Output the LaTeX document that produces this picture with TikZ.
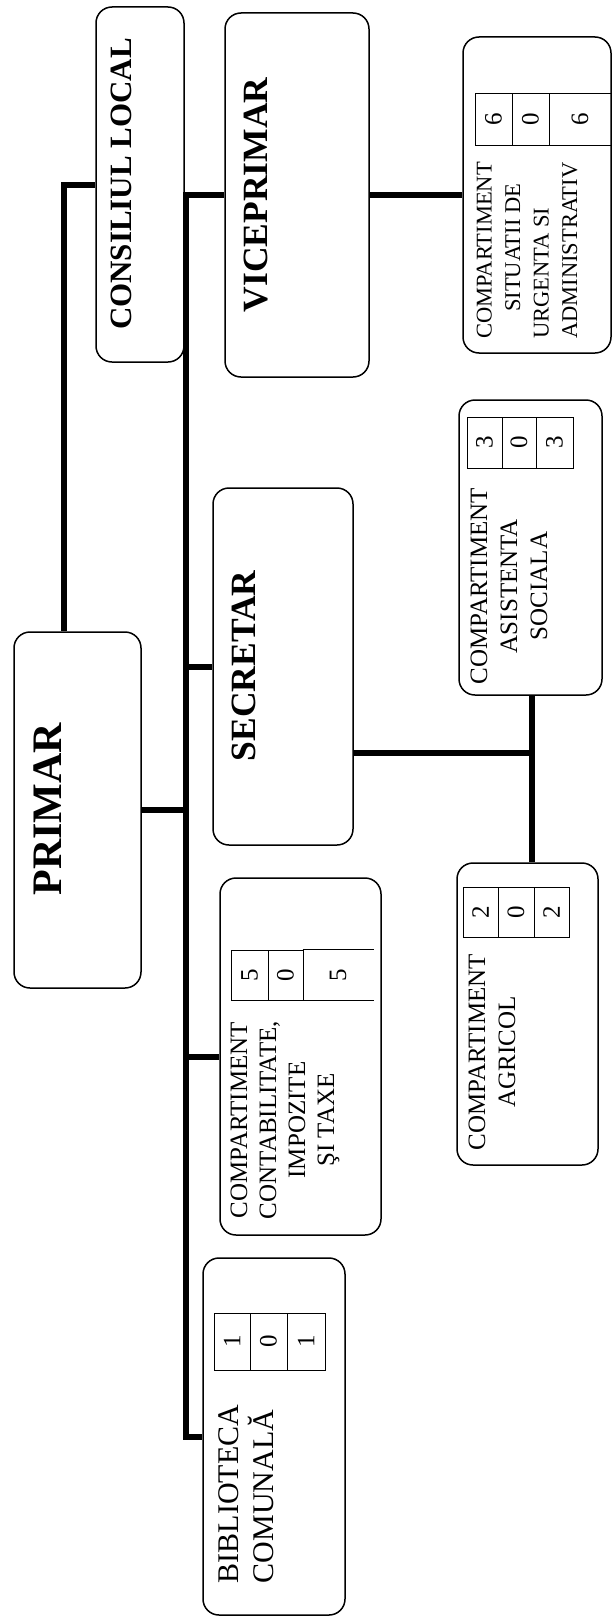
\documentclass[tikz,border=0pt]{standalone}
\usepackage{fontspec}
\setmainfont{Liberation Serif}
\usepackage{graphicx}

\begin{document}
\begin{tikzpicture}[
    x=1pt, y=-1pt,
    every node/.style={font=\fontsize{25}{30}\selectfont},
    box/.style={draw, rounded corners=16pt, line width=1.5pt},
    head/.style={rotate=90, inner sep=0pt},
    comp/.style={rotate=90, inner sep=0pt, align=center},
    cell/.style={draw, line width=1pt, inner sep=0pt},
    conn/.style={line width=6pt},
  ]
  \useasboundingbox (0,0) rectangle (613,1619);

  %% Leadership boxes
  \node[box, minimum width=88,  minimum height=355] (consiliu)   at (140,184.5) {};
  \node[box, minimum width=144, minimum height=364] (viceprimar) at (297,195) {};
  \node[box, minimum width=127, minimum height=356] (primar)     at (77.5,810) {};
  \node[box, minimum width=140, minimum height=357] (secretar)   at (283,666.5) {};

  \node[head, font=\bfseries\fontsize{31}{31}\selectfont] (consiliu-t)   at (121,184) {CONSILIUL LOCAL};
  \node[head, font=\bfseries\fontsize{35.5}{36}\selectfont] (viceprimar-t) at (256,195) {VICEPRIMAR};
  \node[head, font=\bfseries\fontsize{42}{42}\selectfont] (primar-t)     at (48,809) {PRIMAR};
  \node[head, font=\bfseries\fontsize{35.5}{36}\selectfont] (secretar-t)   at (244,666) {SECRETAR};

  %% Compartments
  \node[box, minimum width=148, minimum height=316] (situatii)      at (537,195) {};
  \node[box, minimum width=143, minimum height=295] (asistenta)     at (530.5,547.5) {};
  \node[box, minimum width=141, minimum height=302] (agricol)       at (527.5,1014) {};
  \node[box, minimum width=161, minimum height=357] (contabilitate) at (300.5,1056.5) {};
  \node[box, minimum width=142, minimum height=357] (biblioteca)    at (274,1436.5) {};

  \node[comp, align=left, font=\fontsize{22.5}{28.5}\selectfont] (situatii-t) at (527,250.5)
    {COMPARTIMENT\\\hspace*{1.2em}SITUATII DE\\URGENTA SI\\ADMINISTRATIV};
  \node[comp] (asistenta-t) at (509,586) {COMPARTIMENT\\ASISTENTA\\SOCIALA};
  \node[comp] (agricol-t) at (492,1052) {COMPARTIMENT\\AGRICOL};
  \node[comp, font=\fontsize{25}{29}\selectfont] (contabilitate-t) at (285,1120)
    {COMPARTIMENT\\CONTABILITATE,\\IMPOZITE\\ŞI TAXE};
  \node[comp, align=left, font=\fontsize{30}{35}\selectfont] (biblioteca-t) at (246,1494)
    {BIBLIOTECA\\COMUNALĂ};

  %% Staff tables
  \node[cell, minimum width=37, minimum height=52] (sit1) at (493.5,119) {\rotatebox{90}{6}};
  \node[cell, minimum width=37, minimum height=52] (sit2) at (530.5,119) {\rotatebox{90}{0}};
  \node[cell, minimum width=62, minimum height=52] (sit3) at (580,119)   {\rotatebox{90}{6}};

  \node[cell, minimum width=35, minimum height=51] (asi1) at (484.5,442.5) {\rotatebox{90}{3}};
  \node[cell, minimum width=34, minimum height=51] (asi2) at (519,442.5)   {\rotatebox{90}{0}};
  \node[cell, minimum width=37, minimum height=51] (asi3) at (554.5,442.5) {\rotatebox{90}{3}};

  \node[cell, minimum width=35, minimum height=50] (agr1) at (480.5,912) {\rotatebox{90}{2}};
  \node[cell, minimum width=36, minimum height=50] (agr2) at (516,912)   {\rotatebox{90}{0}};
  \node[cell, minimum width=35, minimum height=50] (agr3) at (551.5,912) {\rotatebox{90}{2}};

  \node[cell, minimum width=37, minimum height=50] (con1) at (249.5,975) {\rotatebox{90}{5}};
  \node[cell, minimum width=35, minimum height=50] (con2) at (285.5,975) {\rotatebox{90}{0}};
  \node[cell, draw=none, minimum width=70, minimum height=50] (con3) at (338,975) {\rotatebox{90}{5}};
  \draw[line width=1pt] (con3.north west) -- (con3.north east)
                        (con3.south west) -- (con3.south east);

  \node[cell, minimum width=36, minimum height=57] (bib1) at (232,1341.5)   {\rotatebox{90}{1}};
  \node[cell, minimum width=37, minimum height=57] (bib2) at (268.5,1341.5) {\rotatebox{90}{0}};
  \node[cell, minimum width=38, minimum height=57] (bib3) at (306,1341.5)   {\rotatebox{90}{1}};

  %% Connectors
  \coordinate (trunk) at (186,0);
  \coordinate (fork)  at (532,753);

  \draw[conn] ([xshift=-14pt]primar.north) |- (consiliu.west);
  \draw[conn] (viceprimar.west) -| (trunk |- biblioteca.west) -- (biblioteca.west);
  \draw[conn] (primar.east) -- (primar.east -| trunk);
  \draw[conn] (secretar.west -| trunk) -- (secretar.west);
  \draw[conn] (contabilitate.west -| trunk) -- (contabilitate.west);
  \draw[conn] (viceprimar.east) -- (situatii.west);
  \draw[conn] (secretar.east |- fork) -- (fork);
  \draw[conn] (asistenta.south -| fork) -- (agricol.north -| fork);
\end{tikzpicture}
\end{document}
